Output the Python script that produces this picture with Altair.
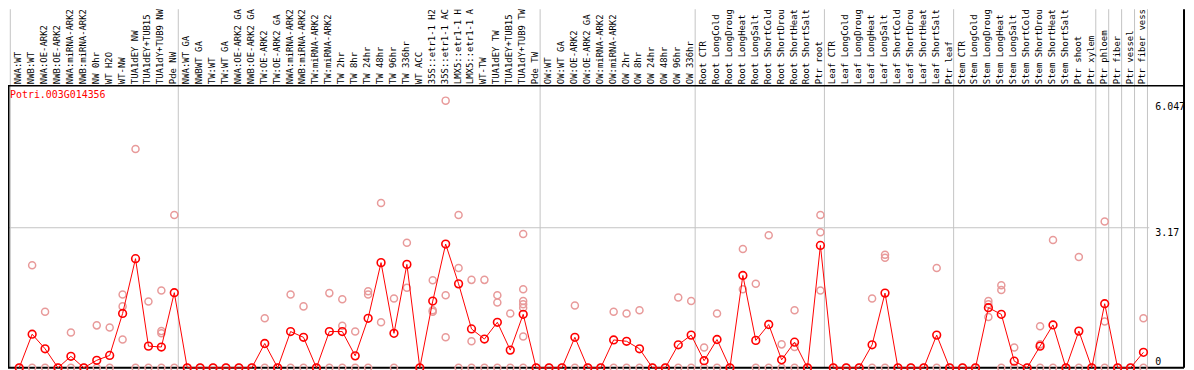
import altair as alt
import pandas as pd

gene = "Potri.003G014356"

labels = [
    "NWA:WT", "NWB:WT", "NWA:OE-ARK2", "NWB:OE-ARK2", "NWA:miRNA-ARK2", "NWB:miRNA-ARK2",
    "NW 0hr", "WT H2O", "WT-NW", "TUA1dEY NW", "TUA1dEY+TUB15", "TUA1dY+TUB9 NW", "Pde NW",
    "NWA:WT GA", "NWBWT GA", "TW:WT", "TW:WT GA", "NWA:OE-ARK2 GA", "NWB:OE-ARK2 GA",
    "TW:OE-ARK2", "TW:OE-ARK2 GA", "NWA:miRNA-ARK2", "NWB:miRNA-ARK2", "TW:miRNA-ARK2",
    "TW:miRNA-ARK2", "TW 2hr", "TW 8hr", "TW 24hr", "TW 48hr", "TW 96hr", "TW 336hr",
    "WT ACC", "35S::etr1-1 H2", "35S::etr1-1 AC", "LMX5::etr1-1 H", "LMX5::etr1-1 A",
    "WT-TW", "TUA1dEY TW", "TUA1dEY+TUB15", "TUA1dY+TUB9 TW", "Pde TW",
    "OW:WT", "OW:WT GA", "OW:OE-ARK2", "OW:OE-ARK2 GA", "OW:miRNA-ARK2", "OW:miRNA-ARK2",
    "OW 2hr", "OW 8hr", "OW 24hr", "OW 48hr", "OW 96hr", "OW 336hr",
    "Root CTR", "Root LongCold", "Root LongDroug", "Root LongHeat", "Root LongSalt",
    "Root ShortCold", "Root ShortDrou", "Root ShortHeat", "Root ShortSalt", "Ptr root",
    "Leaf CTR", "Leaf LongCold", "Leaf LongDroug", "Leaf LongHeat", "Leaf LongSalt",
    "Leaf ShortCold", "Leaf ShortDrou", "Leaf ShortHeat", "Leaf ShortSalt", "Ptr leaf",
    "Stem CTR", "Stem LongCold", "Stem LongDroug", "Stem LongHeat", "Stem LongSalt",
    "Stem ShortCold", "Stem ShortDrou", "Stem ShortHeat", "Stem ShortSalt", "Ptr shoot",
    "Ptr xylem", "Ptr phloem", "Ptr fiber", "Ptr vessel", "Ptr fiber vess",
]

means = [
    0, 0.76, 0.43, 0, 0.26, 0, 0.17, 0.28, 1.23, 2.47, 0.49, 0.47, 1.70,
    0, 0, 0, 0, 0, 0, 0.55, 0, 0.82, 0.69, 0, 0.82, 0.82, 0.27, 1.12, 2.38, 0.78, 2.34,
    0, 1.51, 2.80, 1.90, 0.88, 0.65, 1.03, 0.40, 1.21, 0,
    0, 0, 0.69, 0, 0, 0.63, 0.60, 0.43, 0, 0, 0.52, 0.74,
    0.16, 0.64, 0, 2.09, 0.62, 0.98, 0.18, 0.58, 0, 2.77,
    0, 0, 0, 0.52, 1.69, 0, 0, 0, 0.74, 0,
    0, 0, 1.36, 1.21, 0.15, 0, 0.49, 0.97, 0, 0.83, 0,
    1.45, 0, 0, 0.35,
]

replicates = [
    [0], [2.32, 0], [1.27, 0], [0], [0.80, 0], [0], [0.96, 0], [0.91, 0],
    [1.66, 1.39, 0.64], [4.95, 0], [1.50, 0], [1.75, 0.83, 0.78, 0], [3.46, 0],
    [0], [0], [0], [0], [0], [0], [1.12, 0], [0], [1.66, 0], [1.39, 0], [0],
    [1.69, 0], [1.55, 0.95, 0], [0.82, 0], [1.73, 1.66, 0], [3.73, 1.03], [1.57, 0],
    [2.83, 1.81], [0], [1.98, 1.30, 1.27], [6.047, 1.64, 0.69], [3.46, 2.26, 0],
    [1.99, 0.60, 0], [1.99, 0], [1.64, 1.48, 0], [1.23, 0],
    [3.03, 1.78, 1.51, 1.44, 1.36, 0.71, 0], [0],
    [0], [0], [1.41, 0], [0], [0], [1.27, 0], [1.23, 0], [1.30, 0], [0], [0],
    [1.59, 0], [1.51, 0],
    [0.46, 0], [1.23, 0], [0], [2.69, 1.78], [1.90, 0], [3.00, 0], [0.53, 0],
    [1.30, 0.47, 0], [0], [3.46, 3.07, 1.75],
    [0], [0], [0], [1.57, 0], [2.56, 2.49, 0], [0], [0], [0], [2.26, 0], [0],
    [0], [0], [1.51, 1.44, 1.15], [1.87, 1.76, 0], [0.46, 0], [0], [0.94, 0.53, 0],
    [2.89, 0], [0], [2.51, 0], [0],
    [3.31, 1.05, 0], [0], [0], [1.12, 0],
]

group_starts = [0, 13, 41, 53, 63, 73, 84, 85, 86, 87, 88]
tick_values = [0, 3.17, 6.047]
tick_texts = ["0", "3.17", "6.047"]
y_max = 6.34

# ---- layout (pixels within the chart) ----
W, H = 1186, 362
x0, step = 11.3, 13.01
base_y, top_y = 361, 79
plot_top = 77
right_edge = 1184
tick_dy = [-6, 5, 6]

xs = alt.Scale(domain=[0, len(labels) - 1], range=[x0, x0 + step * (len(labels) - 1)],
               nice=False, zero=False)
ys = alt.Scale(domain=[0, y_max], range=[base_y, top_y], nice=False, zero=False)

df_mean = pd.DataFrame({"idx": list(range(len(labels))), "label": labels, "mean": means})
df_rep = pd.DataFrame(
    [{"idx": i, "value": v} for i, vals in enumerate(replicates) for v in vals]
)
df_sep = pd.DataFrame({"pos": [g - 0.69 for g in group_starts]})
df_grid = pd.DataFrame({"v": [tick_values[1]]})
df_one = pd.DataFrame({"t": [gene]})

font = "DejaVu Sans Mono"

seps = alt.Chart(df_sep).mark_rule(color="#c4c4c4", strokeWidth=1).encode(
    x=alt.X("pos:Q", scale=xs, axis=None),
    y=alt.value(0), y2=alt.value(base_y),
)
grid = alt.Chart(df_grid).mark_rule(color="#c4c4c4", strokeWidth=1).encode(
    y=alt.Y("v:Q", scale=ys, axis=None),
    x=alt.value(0), x2=alt.value(1149),
)
top_border = alt.Chart(df_one).mark_rule(color="black", strokeWidth=1.5).encode(
    y=alt.value(plot_top), x=alt.value(0), x2=alt.value(right_edge))
bottom_border = alt.Chart(df_one).mark_rule(color="black", strokeWidth=2).encode(
    y=alt.value(base_y), x=alt.value(0), x2=alt.value(right_edge))
right_border = alt.Chart(df_one).mark_rule(color="black", strokeWidth=2).encode(
    x=alt.value(right_edge), y=alt.value(0), y2=alt.value(base_y))
left_border = alt.Chart(df_one).mark_rule(color="black", strokeWidth=2).encode(
    x=alt.value(0.5), y=alt.value(plot_top), y2=alt.value(base_y))

reps = alt.Chart(df_rep).mark_point(shape="circle", filled=False, color="#e89a9a",
                                     size=50, strokeWidth=1.5, opacity=1).encode(
    x=alt.X("idx:Q", scale=xs, axis=None),
    y=alt.Y("value:Q", scale=ys, axis=None),
)
line = alt.Chart(df_mean).mark_line(color="#ff0000", strokeWidth=1).encode(
    x=alt.X("idx:Q", scale=xs, axis=None),
    y=alt.Y("mean:Q", scale=ys, axis=None),
)
pts = alt.Chart(df_mean).mark_point(shape="circle", filled=False, color="#ff0000",
                                     size=60, strokeWidth=1.6, opacity=1).encode(
    x=alt.X("idx:Q", scale=xs, axis=None),
    y=alt.Y("mean:Q", scale=ys, axis=None),
)
cat_labels = alt.Chart(df_mean).mark_text(angle=270, align="left", baseline="middle",
                                           font=font, fontSize=9, color="black",
                                           dy=-1).encode(
    x=alt.X("idx:Q", scale=xs, axis=None),
    y=alt.value(plot_top - 1.5),
    text="label:N",
)
gene_text = alt.Chart(df_one).mark_text(align="left", baseline="middle", font=font,
                                         fontSize=10, color="#ff0000").encode(
    x=alt.value(2), y=alt.value(86), text="t:N")

tick_layers = []
for v, t, d in zip(tick_values, tick_texts, tick_dy):
    tick_layers.append(
        alt.Chart(pd.DataFrame({"v": [v], "t": [t]})).mark_text(
            align="left", baseline="middle", font=font, fontSize=10,
            color="black", dy=d).encode(
            x=alt.value(1155),
            y=alt.Y("v:Q", scale=ys, axis=None),
            text="t:N",
        )
    )

chart = alt.layer(
    seps, grid, top_border, bottom_border, right_border, left_border,
    reps, line, pts, cat_labels, gene_text, *tick_layers,
).properties(
    width=W, height=H, padding=0,
    autosize=alt.AutoSizeParams(type="none"),
    background="white",
).configure_view(stroke=None)

chart.save("out.html", embed_options={"renderer": "svg", "actions": False})
